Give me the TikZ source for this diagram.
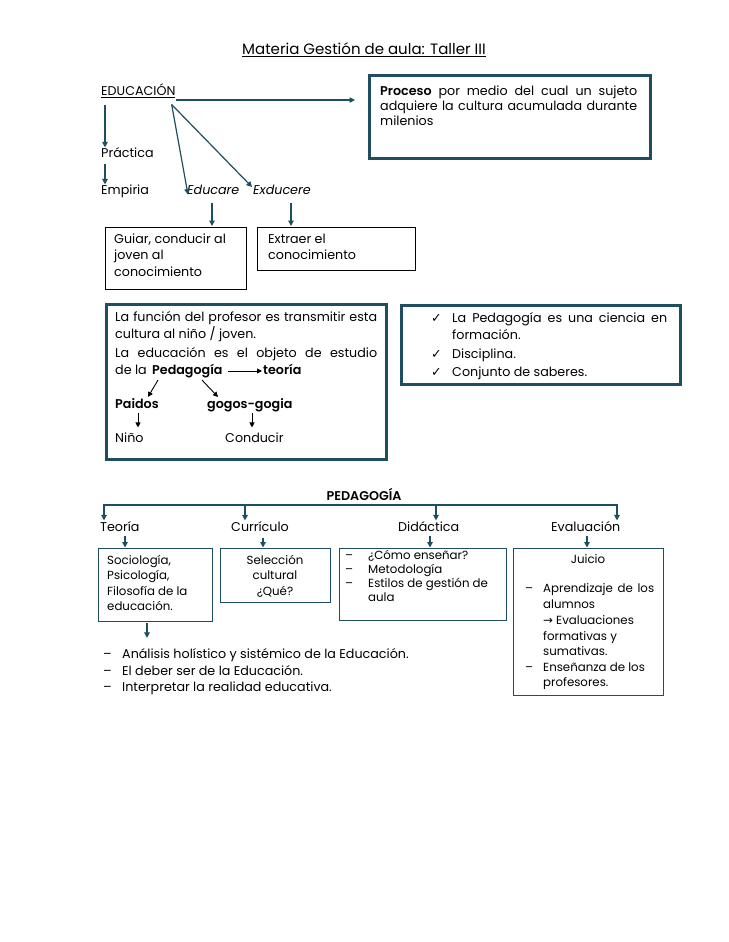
\documentclass[tikz,border=0pt]{standalone}
\usepackage{fontspec}
\setmainfont{Poppins}[BoldFont={Poppins SemiBold}]
\newfontfamily\symfont{DejaVu Sans}
\usetikzlibrary{arrows.meta,calc}
\definecolor{myteal}{HTML}{1F4E60}
\begin{document}
\begin{tikzpicture}[x=1pt,y=-1pt,
  txt/.style={inner sep=0pt, anchor=west, text height=9.8pt, text depth=2.9pt, font=\fontsize{12.7}{15}\selectfont},
  stxt/.style={inner sep=0pt, anchor=west, text height=9.1pt, text depth=2.7pt, font=\fontsize{11.8}{14}\selectfont},
  ctxt/.style={txt, anchor=center},
  cstxt/.style={stxt, anchor=center},
  arr/.style={draw=myteal, line width=1.2pt, -{Triangle[length=5.5pt,width=5.5pt]}},
  barr/.style={draw=black, line width=0.9pt, -{Triangle[length=5pt,width=5pt]}},
  thickbox/.style={draw=myteal, line width=3pt, anchor=north west, inner sep=0pt},
  thinbox/.style={draw=black, line width=0.8pt, anchor=north west, inner sep=0pt},
  tealbox/.style={draw=myteal, line width=1pt, anchor=north west, inner sep=0pt}]
\useasboundingbox (0,0) rectangle (728,942);
\fill[white] (0,0) rectangle (728,942);

% title
\node[ctxt, font=\fontsize{15}{18}\selectfont] (title) at (364,51) {\underline{Materia Gestión de aula: Taller III}};

% top part
\node[txt] (educ) at (101,92) {\underline{EDUCACIÓN}};
\node[thickbox, minimum width=281pt, minimum height=83pt] (proceso) at (368,74) {};
\node[txt] (p1) at (380,92) {\makebox[257pt][s]{\textbf{Proceso} por medio del cual un sujeto}};
\node[txt] (p2) at (380,107) {\makebox[257pt][s]{adquiere la cultura acumulada durante}};
\node[txt] (p3) at (380,122) {milenios};
\draw[arr, shorten >=13pt] ($(educ.south east)+(0,1.5)$) -- ($(educ.south east -| proceso.west)+(0,1.5)$);

\node[txt] (practica) at (101,154) {Práctica};
\node[txt] (empiria) at (101,191) {Empiria};
\node[txt] (educare) at (187,191) {\itshape Educare};
\node[txt] (exducere) at (253,191) {\itshape Exducere};
\draw[arr] ($(educ.south west)+(4,6)$) -- ($(practica.north west)+(4,0)$);
\draw[arr] ($(practica.south west)+(4,3)$) -- ($(empiria.north west)+(4,0)$);
\draw[arr] ($(educ.south east)+(-4,6)$) -- ($(educare.south west)+(1,-3)$);
\draw[arr] ($(educ.south east)+(-4,6)$) -- ($(exducere.west)+(-1,-4)$);

\node[thinbox, minimum width=141pt, minimum height=62pt] (guiar) at (105,227) {};
\node[thinbox, minimum width=158pt, minimum height=43pt] (extraer) at (257,227) {};
\draw[arr, shorten >=1pt] ($(educare.south west)+(25,5)$) -- ($(guiar.north west)+(107,0)$);
\draw[arr, shorten >=1pt] ($(exducere.south west)+(38,5)$) -- ($(extraer.north west)+(34,0)$);
\node[txt] (g1) at (114,240) {Guiar, conducir al};
\node[txt] (g2) at (114,256.5) {joven al};
\node[txt] (g3) at (114,273) {conocimiento};
\node[txt] (x1) at (268,240) {Extraer el};
\node[txt] (x2) at (268,256.5) {conocimiento};

% funcion box
\node[thickbox, minimum width=280pt, minimum height=155pt] (funcion) at (105,303) {};
\node[txt] (f1) at (115,318) {\makebox[262pt][s]{La función del profesor es transmitir esta}};
\node[txt] (f2) at (115,335) {cultura al niño / joven.};
\node[txt] (f3) at (115,354) {\makebox[262pt][s]{La educación es el objeto de estudio}};
\node[txt] (f4) at (115,371) {de la};
\node[txt] (pedag) at (152,371) {\bfseries Pedagogía};
\node[txt] (teoria) at (263,371) {\bfseries teoría};
\draw[barr] ($(pedag.west)+(76,0)$) -- ($(teoria.west)+(-1,0)$);
\node[txt] (paidos) at (115,405) {\bfseries Paidos};
\node[txt] (gogos) at (207,405) {\bfseries gogos-gogia};
\node[txt] (nino) at (115,439) {Niño};
\node[txt] (conducir) at (225,439) {Conducir};
\draw[barr] ($(pedag.south west)+(6,2.5)$) -- ($(paidos.north west)+(33,-1.5)$);
\draw[barr] ($(pedag.south west)+(50,2.5)$) -- ($(gogos.north west)+(11,-1.5)$);
\draw[barr] ($(paidos.south west)+(23,1.5)$) -- ($(nino.north west)+(23,-5)$);
\draw[barr] ($(gogos.south west)+(45,1.5)$) -- ($(conducir.north west)+(27,-5)$);

% check box
\node[thickbox, minimum width=279pt, minimum height=79pt] (check) at (400,304) {};
\node[txt] (c1) at (431,319) {\symfont ✓};
\node[txt] (c3) at (431,355) {\symfont ✓};
\node[txt] (c4) at (431,373) {\symfont ✓};
\node[txt] (k1) at (452,319) {\makebox[215pt][s]{La Pedagogía es una ciencia en}};
\node[txt] (k2) at (452,336) {formación.};
\node[txt] (k3) at (452,355) {Disciplina.};
\node[txt] (k4) at (452,373) {Conjunto de saberes.};

% pedagogia tree
\node[ctxt] (ped) at (364,497) {\bfseries PEDAGOGÍA};
\node[txt] (teo) at (100,528) {Teoría};
\node[txt] (cur) at (231,528) {Currículo};
\node[txt] (did) at (398,528) {Didáctica};
\node[txt] (eva) at (551,528) {Evaluación};
\draw[arr] ($(ped.south)+(0,1.5)$) -| ($(teo.north west)+(4,-1)$);
\draw[arr] ($(ped.south)+(0,1.5)$) -| ($(cur.north west)+(14,-1)$);
\draw[arr] ($(ped.south)+(0,1.5)$) -| ($(did.north west)+(38,-1)$);
\draw[arr] ($(ped.south)+(0,1.5)$) -| ($(eva.north west)+(66,-1)$);

\node[tealbox, minimum width=114pt, minimum height=73pt] (soc) at (98,548) {};
\node[tealbox, minimum width=110pt, minimum height=54pt] (sel) at (220,548) {};
\node[tealbox, minimum width=167pt, minimum height=72pt] (didbox) at (339,548) {};
\node[tealbox, minimum width=150pt, minimum height=147pt] (evabox) at (513,548) {};
\draw[arr, shorten >=0.5pt] ($(teo.south west)+(25,1.5)$) -- ($(soc.north west)+(27,0)$);
\draw[arr, shorten >=0.5pt] ($(cur.south west)+(32,3)$) -- ($(sel.north west)+(43,0)$);
\draw[arr, shorten >=0.5pt] ($(did.south west)+(32,1.5)$) -- ($(didbox.north west)+(91,0)$);
\draw[arr, shorten >=0.5pt] ($(eva.south west)+(36,1.5)$) -- ($(evabox.north west)+(74,0)$);

\node[stxt] (s1) at (107,561) {Sociología,};
\node[stxt] (s2) at (107,576.5) {Psicología,};
\node[stxt] (s3) at (107,592) {Filosofía de la};
\node[stxt] (s4) at (107,607) {educación.};

\node[cstxt] (e1) at (275,561) {Selección};
\node[cstxt] (e2) at (275,576.5) {cultural};
\node[cstxt] (e3) at (275,592) {¿Qué?};

\node[stxt] (d1a) at (345,556.5) {–};
\node[stxt] (d2a) at (345,570.5) {–};
\node[stxt] (d3a) at (345,584.5) {–};
\node[stxt] (d1) at (368,556.5) {¿Cómo enseñar?};
\node[stxt] (d2) at (368,570.5) {Metodología};
\node[stxt] (d3) at (368,584.5) {Estilos de gestión de};
\node[stxt] (d4) at (368,598.5) {aula};

\node[cstxt] (v0) at (588,560) {Juicio};
\node[stxt] (v1a) at (525,589) {–};
\node[stxt] (v6a) at (525,668) {–};
\node[stxt] (v1) at (543,589) {\makebox[111pt][s]{Aprendizaje de los}};
\node[stxt] (v2) at (543,605) {alumnos};
\node[stxt] (v3) at (543,621) {{\symfont →} Evaluaciones};
\node[stxt] (v4) at (543,637) {formativas y};
\node[stxt] (v5) at (543,652) {sumativas.};
\node[stxt] (v6) at (543,668) {Enseñanza de los};
\node[stxt] (v7) at (543,683) {profesores.};

% bottom list
\node[txt] (l1) at (122,655) {Análisis holístico y sistémico de la Educación.};
\node[txt] (l2) at (122,672) {El deber ser de la Educación.};
\node[txt] (l3) at (122,688) {Interpretar la realidad educativa.};
\node[txt] (l1a) at (103,655) {–};
\node[txt] (l2a) at (103,672) {–};
\node[txt] (l3a) at (103,688) {–};
\draw[arr] ($(soc.south west)+(49,1)$) -- ($(l1.north west)+(25,-10.5)$);
\end{tikzpicture}
\end{document}
